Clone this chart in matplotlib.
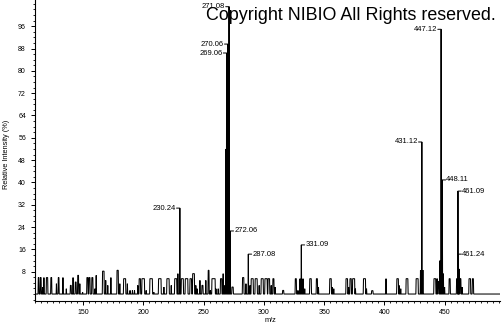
import matplotlib
matplotlib.use("Agg")
import matplotlib.pyplot as plt
from matplotlib.ticker import MultipleLocator, FixedLocator
import numpy as np

plt.rcParams['font.family'] = ['Liberation Sans', 'DejaVu Sans']

# ---- labelled peaks (m/z, relative intensity %, label side) ----
peak_mz = [230.24, 269.06, 270.06, 271.08, 272.06, 287.08, 331.09,
           431.12, 447.12, 448.11, 461.09, 461.24]
peak_int = [30.8, 86.4, 89.6, 103.0, 22.6, 14.3, 17.6,
            54.5, 94.9, 40.9, 36.9, 14.3]
peak_side = ['left', 'left', 'left', 'left', 'right', 'right', 'right',
             'left', 'left', 'right', 'right', 'right']

# ---- unlabelled peaks / noise (centre m/z, flat-top width, intensity %) ----
noise_mz = [113.0, 114.8, 116.3, 117.4, 120.0, 123.5, 127.8, 129.6, 133.2, 136.0,
            139.7, 141.6, 143.8, 145.8, 147.2, 149.5, 153.5, 155.2, 157.6, 159.7,
            160.8, 166.7, 168.7, 170.4, 173.0, 178.6, 180.4, 184.4, 186.7, 188.9,
            190.9, 192.6, 195.3, 197.0, 199.8, 202.3, 206.4, 208.6, 213.6, 217.0,
            220.4, 223.1, 226.8, 228.6, 232.3, 235.8, 239.3, 241.6, 243.5, 244.6,
            246.9, 249.0, 251.8, 254.1, 255.6, 258.2, 260.2, 262.1, 264.5, 266.2,
            267.6, 268.4, 274.0, 282.8, 285.1, 288.5, 290.3, 293.6, 296.1, 298.6,
            301.8, 304.1, 306.1, 307.9, 309.4, 316.0, 326.5, 328.3, 330.0, 332.5,
            333.9, 338.7, 344.0, 345.3, 355.3, 356.8, 358.0, 368.8, 370.3, 372.0,
            374.5, 376.0, 383.5, 385.2, 390.0, 401.4, 411.0, 412.2, 413.6, 418.8,
            427.2, 430.0, 432.0, 441.9, 443.8, 445.0, 446.2, 449.0, 450.0, 454.2,
            460.3, 462.2, 463.2, 464.6, 470.9, 473.5]
noise_w = [0.5, 0.5, 0.0, 0.0, 1.0, 0.6, 0.0, 0.5, 0.0, 0.0,
           0.6, 0.0, 0.6, 0.6, 0.0, 0.0, 0.8, 0.8, 0.8, 0.0,
           0.0, 1.2, 0.0, 0.0, 0.0, 1.0, 0.0, 1.6, 0.0, 0.0,
           0.0, 0.0, 0.0, 1.0, 2.0, 0.0, 2.0, 0.0, 2.0, 0.0,
           1.8, 0.0, 1.6, 0.0, 1.6, 2.0, 1.2, 1.4, 0.0, 0.0,
           0.0, 0.8, 0.0, 0.6, 0.0, 2.6, 0.0, 0.0, 1.0, 0.0,
           0.0, 0.0, 1.0, 1.0, 0.0, 0.0, 1.6, 1.6, 0.0, 1.6,
           1.8, 1.2, 0.0, 0.8, 0.0, 0.8, 0.8, 0.0, 0.0, 0.0,
           0.0, 1.2, 0.8, 0.0, 1.2, 0.0, 0.0, 1.2, 0.0, 1.0,
           1.6, 0.0, 1.6, 0.0, 1.0, 0.0, 1.2, 0.0, 0.0, 1.4,
           1.6, 0.0, 0.0, 1.4, 0.2, 0.6, 0.0, 0.0, 0.0, 0.8,
           0.6, 0.0, 0.6, 0.0, 1.2, 0.8]
noise_int = [5.9, 5.9, 2.5, 5.9, 5.9, 5.9, 3.7, 5.9, 5.9, 1.9,
             3.1, 5.9, 4.3, 6.7, 3.7, 0.7, 5.9, 5.9, 5.9, 1.9,
             6.7, 8.2, 4.9, 3.1, 5.9, 8.5, 3.7, 5.5, 3.7, 1.3,
             1.3, 1.3, 3.1, 5.5, 5.5, 1.3, 5.5, 0.7, 5.5, 2.5,
             5.5, 3.1, 5.5, 7.3, 5.5, 5.5, 5.5, 7.3, 3.1, 1.9,
             4.9, 3.1, 4.9, 8.5, 1.3, 5.5, 1.9, 1.9, 5.5, 7.3,
             3.1, 52.0, 2.5, 5.9, 3.7, 3.1, 5.5, 5.5, 3.1, 5.5,
             5.5, 5.5, 3.1, 5.5, 2.5, 1.3, 5.5, 1.3, 5.5, 5.5,
             1.9, 5.5, 5.5, 2.5, 5.5, 2.5, 1.9, 5.5, 2.5, 5.5,
             5.5, 1.9, 5.5, 1.9, 1.2, 5.5, 5.5, 3.1, 1.9, 5.5,
             5.5, 8.5, 8.6, 5.5, 5.5, 4.5, 12.0, 7.3, 2.5, 5.5,
             5.5, 9.0, 5.5, 2.5, 5.5, 5.5]

x_ticks = [150, 200, 250, 300, 350, 400, 450]
y_ticks = [8, 16, 24, 32, 40, 48, 56, 64, 72, 80, 88, 96]
x_range = (110, 496)
y_range = (-2.5, 105.4)

# ---- build profile polyline from the peak tables ----
centres = list(noise_mz) + list(peak_mz)
widths = list(noise_w) + [0.0] * len(peak_mz)
heights = list(noise_int) + list(peak_int)
order = np.argsort(centres)
ramp = 0.25
px, py = [x_range[0]], [0.0]
for i in order:
    c, w, h = centres[i], widths[i], heights[i]
    px += [c - w / 2 - ramp, c - w / 2, c + w / 2, c + w / 2 + ramp]
    py += [0.0, h, h, 0.0]
px.append(x_range[1])
py.append(0.0)

fig = plt.figure(figsize=(5.04, 3.25), dpi=100)
ax = fig.add_axes([35 / 504, 24 / 325, 465 / 504, 301 / 325])
ax.plot(px, py, color='black', lw=0.75, solid_joinstyle='miter', clip_on=True)

ax.set_xlim(*x_range)
ax.set_ylim(*y_range)
for s in ['top', 'right']:
    ax.spines[s].set_visible(False)
for s in ['left', 'bottom']:
    ax.spines[s].set_linewidth(0.8)

ax.xaxis.set_major_locator(FixedLocator(x_ticks))
ax.xaxis.set_minor_locator(MultipleLocator(5))
ax.yaxis.set_major_locator(FixedLocator(y_ticks))
ax.yaxis.set_minor_locator(MultipleLocator(2))
ax.tick_params(axis='both', which='major', direction='out', length=3.0, width=0.7,
               labelsize=5, pad=2.5)
ax.tick_params(axis='both', which='minor', direction='out', length=1.6, width=0.6)
ax.tick_params(axis='y', which='major', pad=3.5)

# peak labels
for m, h, side in zip(peak_mz, peak_int, peak_side):
    sgn = 1 if side == 'right' else -1
    ax.annotate('', xy=(m, h), xytext=(sgn * 2.4, 0), textcoords='offset points',
                arrowprops=dict(arrowstyle='-', lw=0.7, color='black',
                                shrinkA=0, shrinkB=0))
    ax.annotate(f'{m:.2f}', xy=(m, h), xytext=(sgn * 2.9, 0),
                textcoords='offset points', ha='left' if sgn > 0 else 'right',
                va='center', fontsize=5.5, color='black')

fig.text(6.5 / 504, 1 - 154 / 325, 'Relative Intensity (%)', rotation=90,
         ha='center', va='center', fontsize=5.3)
fig.text(270 / 504, 1 - 320 / 325, 'm/z', ha='center', va='center', fontsize=5.3)

fig.text(206 / 504, 1 - 20.5 / 325, 'Copyright NIBIO All Rights reserved.',
         ha='left', va='baseline', fontsize=12.9, color='black', zorder=10)

fig.savefig('out.png', dpi=100)
